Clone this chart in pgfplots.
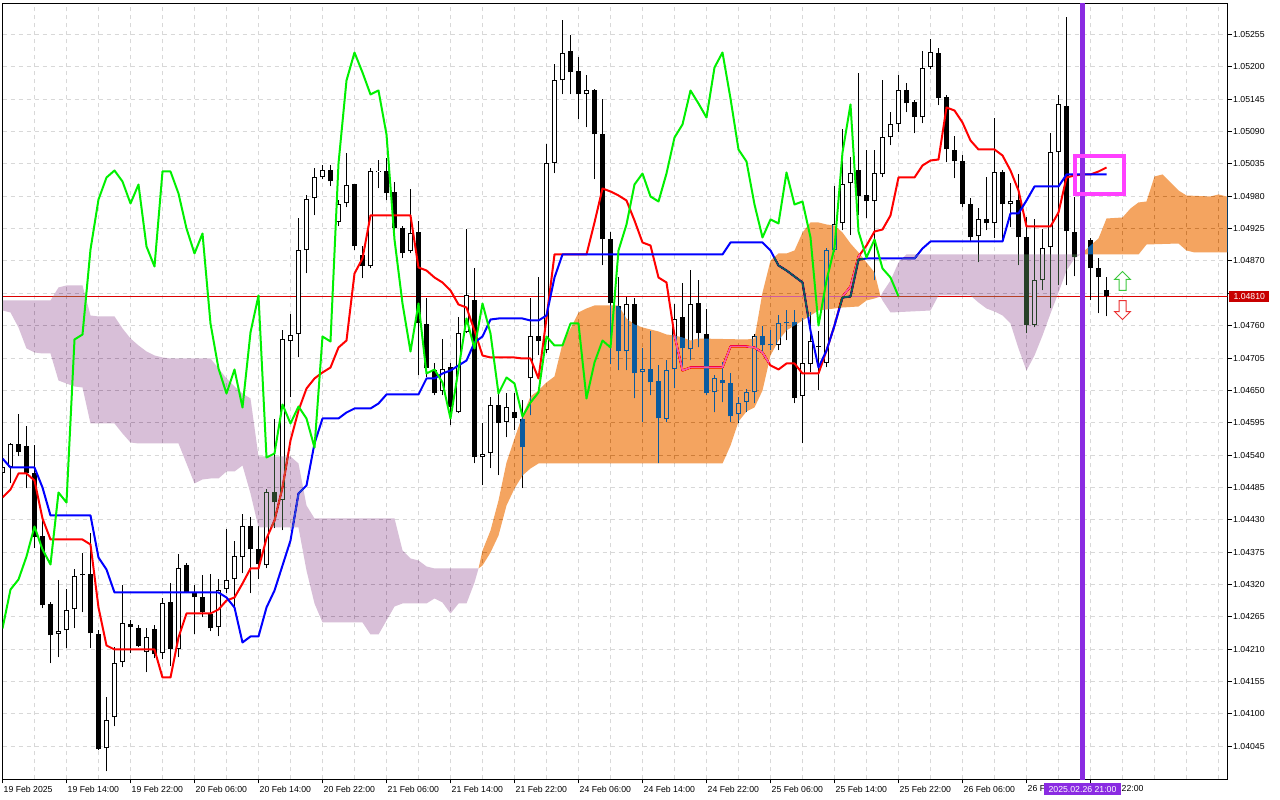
\documentclass[border=0pt]{standalone}
\usepackage{fontspec}
\setmainfont{Liberation Sans}
\usepackage{pgfplots}
\pgfplotsset{compat=1.18}
\usepackage{pgfplotstable}

\definecolor{cloudO}{RGB}{11,91,159}
\definecolor{cloudP}{RGB}{39,64,39}
\definecolor{gridc}{RGB}{216,216,216}
\definecolor{bidred}{RGB}{220,0,0}
\definecolor{bvio}{RGB}{138,43,226}
\definecolor{mag}{RGB}{255,64,255}
\definecolor{chik}{RGB}{0,240,0}
\definecolor{boxred}{RGB}{200,0,0}
\definecolor{arrg}{RGB}{60,200,60}
\definecolor{arrr}{RGB}{235,50,50}

\pgfdeclareplotmark{uparr}{%
 \pgfpathmoveto{\pgfpoint{0bp}{9.5bp}}%
 \pgfpathlineto{\pgfpoint{8bp}{1.5bp}}%
 \pgfpathlineto{\pgfpoint{3.5bp}{1.5bp}}%
 \pgfpathlineto{\pgfpoint{3.5bp}{-9.5bp}}%
 \pgfpathlineto{\pgfpoint{-3.5bp}{-9.5bp}}%
 \pgfpathlineto{\pgfpoint{-3.5bp}{1.5bp}}%
 \pgfpathlineto{\pgfpoint{-8bp}{1.5bp}}%
 \pgfpathclose\pgfusepathqfillstroke}
\pgfdeclareplotmark{dnarr}{%
 \pgfpathmoveto{\pgfpoint{0bp}{-9.5bp}}%
 \pgfpathlineto{\pgfpoint{8bp}{-1.5bp}}%
 \pgfpathlineto{\pgfpoint{3.5bp}{-1.5bp}}%
 \pgfpathlineto{\pgfpoint{3.5bp}{9.5bp}}%
 \pgfpathlineto{\pgfpoint{-3.5bp}{9.5bp}}%
 \pgfpathlineto{\pgfpoint{-3.5bp}{-1.5bp}}%
 \pgfpathlineto{\pgfpoint{-8bp}{-1.5bp}}%
 \pgfpathclose\pgfusepathqfillstroke}

\pgfplotsset{candlebar/.style={black, only marks, mark size=0.01pt, mark options={opacity=0},
  error bars/.cd, y dir=plus, y explicit, error mark=none, error bar style={#1}}}

% bullish candles (close above open)
\pgfplotstableread{
i O H L C
0 1.045087 1.045274 1.045002 1.045189
1 1.045189 1.045597 1.044917 1.045580
7 1.042350 1.043268 1.041959 1.042401
8 1.042418 1.043132 1.042112 1.042775
9 1.042775 1.043472 1.042452 1.043353
13 1.040412 1.041279 1.040021 1.040905
14 1.040939 1.042129 1.040786 1.041874
15 1.041874 1.043200 1.041789 1.042537
18 1.042044 1.042469 1.041704 1.042299
20 1.042027 1.042962 1.041925 1.042894
22 1.042095 1.043710 1.041959 1.043489
27 1.042469 1.043285 1.042316 1.043115
28 1.043115 1.044152 1.043047 1.043285
29 1.043285 1.043948 1.042758 1.043676
30 1.043659 1.044390 1.043387 1.044186
33 1.043523 1.044832 1.043472 1.044764
35 1.044628 1.047518 1.044118 1.047365
36 1.047331 1.047807 1.046379 1.047450
37 1.047450 1.049422 1.047059 1.048895
38 1.048878 1.049813 1.048487 1.049745
39 1.049762 1.050289 1.049473 1.050119
40 1.050119 1.050323 1.050085 1.050238
42 1.049354 1.049728 1.049286 1.049677
43 1.049677 1.050527 1.049609 1.050000
46 1.048606 1.050272 1.048572 1.050221
47 1.050204 1.050425 1.049932 1.050221
51 1.048861 1.049915 1.048827 1.049167
55 1.046481 1.047365 1.046413 1.046855
57 1.046124 1.047739 1.046107 1.047484
58 1.047484 1.049235 1.047467 1.048113
60 1.045359 1.045937 1.044883 1.045427
61 1.045427 1.046379 1.045172 1.046260
63 1.045954 1.046447 1.045699 1.046226
66 1.046702 1.048079 1.046073 1.047416
68 1.047178 1.050680 1.047127 1.050357
69 1.050357 1.052040 1.050187 1.051768
70 1.051768 1.052788 1.051530 1.052244
73 1.051530 1.051853 1.050969 1.051598
78 1.047161 1.048079 1.046838 1.047977
80 1.046804 1.047212 1.045954 1.046855
83 1.046005 1.047025 1.045954 1.046855
84 1.046855 1.047977 1.046532 1.047722
86 1.047195 1.048538 1.047008 1.047977
89 1.046464 1.046753 1.046124 1.046719
92 1.046090 1.046379 1.045937 1.046294
93 1.046294 1.046532 1.046124 1.046464
94 1.046464 1.047467 1.046277 1.047416
97 1.047263 1.047773 1.047178 1.047637
100 1.046396 1.047739 1.045597 1.046974
101 1.046940 1.047824 1.046804 1.047348
103 1.046957 1.048912 1.046889 1.048878
104 1.048878 1.049966 1.048844 1.049320
105 1.049337 1.050935 1.049218 1.050000
106 1.050017 1.050459 1.049133 1.050187
109 1.049711 1.050578 1.048368 1.050187
110 1.050170 1.051768 1.050119 1.050799
111 1.050799 1.051241 1.050663 1.051020
112 1.051020 1.051870 1.050884 1.051598
115 1.051139 1.052261 1.051037 1.051989
116 1.051989 1.052482 1.051955 1.052244
122 1.049116 1.049592 1.048674 1.049405
124 1.049337 1.051122 1.049082 1.050204
126 1.049660 1.050017 1.049269 1.049711
129 1.047603 1.049422 1.047569 1.048368
130 1.048368 1.049235 1.048198 1.048929
131 1.048929 1.050867 1.047892 1.050544
132 1.050544 1.051530 1.048283 1.051360
135 1.048759 1.049133 1.048674 1.049065
}\bull

% bearish candles (close below open)
\pgfplotstableread{
i O H L C
2 1.045580 1.046090 1.045376 1.045444
3 1.045546 1.045903 1.044832 1.045087
4 1.045087 1.045563 1.043812 1.043999
5 1.044016 1.044322 1.042792 1.042843
6 1.042860 1.042894 1.041857 1.042333
10 1.043370 1.043744 1.042724 1.043353
11 1.043387 1.044084 1.042112 1.042367
12 1.042350 1.042435 1.040378 1.040395
16 1.042537 1.042605 1.042027 1.042469
17 1.042469 1.042503 1.042129 1.042146
19 1.042435 1.042520 1.041942 1.042010
21 1.042894 1.043234 1.041806 1.042095
23 1.043523 1.043557 1.043047 1.043064
24 1.043064 1.043200 1.042350 1.042979
25 1.042979 1.043370 1.042639 1.042724
26 1.042707 1.043387 1.042401 1.042452
31 1.044203 1.044339 1.043047 1.043795
32 1.043795 1.044186 1.043285 1.043540
34 1.044781 1.046005 1.044152 1.044594
41 1.050238 1.050323 1.049966 1.050051
44 1.050000 1.050017 1.048878 1.048946
45 1.048810 1.048946 1.048402 1.048606
48 1.050221 1.050459 1.049728 1.049847
49 1.049864 1.050034 1.049218 1.049252
50 1.049252 1.049286 1.048742 1.048827
52 1.049184 1.049388 1.046753 1.047637
53 1.047637 1.048079 1.046719 1.046872
54 1.046855 1.046957 1.046413 1.046447
56 1.046889 1.046957 1.045903 1.046209
59 1.048045 1.048572 1.045257 1.045359
62 1.046260 1.046447 1.045053 1.045937
64 1.046124 1.046447 1.045818 1.046022
65 1.046022 1.046328 1.044832 1.045529
67 1.047416 1.048419 1.047093 1.047331
71 1.052261 1.052533 1.051530 1.051904
72 1.051921 1.052159 1.051105 1.051530
74 1.051598 1.051615 1.050085 1.050850
75 1.050850 1.051445 1.048623 1.049065
76 1.049065 1.049184 1.046940 1.047977
77 1.047943 1.048436 1.046838 1.047161
79 1.047977 1.048079 1.046362 1.046787
81 1.046855 1.047518 1.046413 1.046634
82 1.046651 1.046940 1.045257 1.046022
85 1.047739 1.048317 1.046838 1.047212
87 1.047977 1.048368 1.047229 1.047467
88 1.047467 1.047892 1.046413 1.046447
90 1.046668 1.046974 1.046294 1.046617
91 1.046634 1.046804 1.045954 1.046056
95 1.047416 1.047586 1.047127 1.047263
96 1.047297 1.047518 1.047178 1.047263
98 1.047654 1.047858 1.047348 1.047637
99 1.047654 1.047858 1.046277 1.046362
102 1.047263 1.047518 1.046498 1.047229
107 1.050238 1.051887 1.049473 1.049796
108 1.049813 1.050578 1.049422 1.049711
113 1.051598 1.051717 1.051224 1.051377
114 1.051394 1.051428 1.050867 1.051139
117 1.052244 1.052312 1.051343 1.051462
118 1.051496 1.051530 1.050374 1.050595
119 1.050595 1.050816 1.050102 1.050391
120 1.050391 1.050493 1.049609 1.049660
121 1.049677 1.049762 1.049014 1.049099
123 1.049405 1.050119 1.049218 1.049337
125 1.050204 1.050255 1.049065 1.049660
127 1.049728 1.050170 1.048623 1.049099
128 1.049099 1.049439 1.047467 1.047603
133 1.051326 1.052839 1.048283 1.049201
134 1.049184 1.049779 1.048436 1.048759
136 1.049065 1.049099 1.048028 1.048572
137 1.048572 1.048742 1.047807 1.048419
138 1.048198 1.048419 1.047756 1.048100
}\bear

% Tenkan-sen
\pgfplotstableread{
i v
0 1.044679
1 1.044815
2 1.045087
3 1.045087
4 1.044968
5 1.044322
6 1.043965
10 1.043965
11 1.043880
12 1.042809
13 1.042163
14 1.042095
19 1.042095
20 1.041619
21 1.041619
22 1.042299
23 1.042707
26 1.042707
27 1.042775
28 1.042928
29 1.042979
30 1.043217
31 1.043472
32 1.043472
33 1.043982
34 1.044288
35 1.044849
36 1.045648
37 1.046158
38 1.046532
39 1.046702
40 1.046804
41 1.046889
42 1.047229
43 1.047348
44 1.048487
45 1.048742
46 1.049473
51 1.049473
52 1.048589
53 1.048538
54 1.048419
55 1.048334
56 1.048198
57 1.047960
58 1.047909
59 1.047518
60 1.047093
61 1.047059
64 1.047059
65 1.047042
66 1.047042
67 1.046702
68 1.047722
69 1.048810
73 1.048810
74 1.049354
75 1.049932
76 1.049881
77 1.049813
78 1.049728
79 1.049388
80 1.049014
81 1.048963
82 1.048419
83 1.048334
84 1.047433
85 1.046838
86 1.046889
90 1.046889
91 1.047246
93 1.047246
94 1.047229
95 1.047144
96 1.046923
97 1.046855
98 1.046957
99 1.046957
100 1.046787
102 1.046787
103 1.047178
104 1.047603
105 1.048096
106 1.048266
107 1.048776
108 1.048963
109 1.049201
110 1.049235
111 1.049473
112 1.050119
114 1.050119
115 1.050323
116 1.050408
117 1.050425
118 1.051309
119 1.051258
120 1.051054
121 1.050748
122 1.050595
124 1.050595
125 1.050493
126 1.050238
127 1.049898
128 1.049286
131 1.049286
132 1.049524
133 1.050119
134 1.050153
135 1.050170
136 1.050170
137 1.050221
138 1.050289
}\tenkan

% Kijun-sen
\pgfplotstableread{
i v
0 1.045342
1 1.045189
4 1.045189
5 1.044849
6 1.044373
11 1.044373
12 1.043659
13 1.043455
14 1.043064
27 1.043064
28 1.042979
29 1.042809
30 1.042214
31 1.042316
32 1.042316
33 1.042809
34 1.043098
35 1.043523
36 1.043948
37 1.044747
38 1.044883
39 1.045597
40 1.046022
42 1.046022
43 1.046124
44 1.046192
46 1.046192
47 1.046277
48 1.046430
52 1.046430
53 1.046702
54 1.046702
55 1.046787
56 1.046838
57 1.046923
58 1.047008
59 1.047314
60 1.047416
61 1.047705
62 1.047722
65 1.047722
66 1.047688
67 1.047688
68 1.047773
69 1.048419
70 1.048810
90 1.048810
91 1.049014
95 1.049014
96 1.048878
97 1.048623
98 1.048538
99 1.048436
100 1.048334
101 1.047518
102 1.046889
103 1.047178
104 1.047603
105 1.048079
106 1.048096
107 1.048725
108 1.048742
114 1.048742
115 1.048912
116 1.049031
125 1.049031
126 1.049507
127 1.049507
128 1.049728
129 1.049966
132 1.049966
133 1.050170
138 1.050170
}\kijun

% Chikou span
\pgfplotstableread{
i v
0 1.042452
1 1.043115
2 1.043285
3 1.043676
4 1.044186
5 1.043795
6 1.043540
7 1.044764
8 1.044594
9 1.047365
10 1.047450
11 1.048895
12 1.049745
13 1.050119
14 1.050238
15 1.050051
16 1.049677
17 1.050000
18 1.048946
19 1.048606
20 1.050221
21 1.050221
22 1.049847
23 1.049252
24 1.048827
25 1.049167
26 1.047637
27 1.046872
28 1.046447
29 1.046855
30 1.046209
31 1.047484
32 1.048113
33 1.045359
34 1.045427
35 1.046260
36 1.045937
37 1.046226
38 1.046022
39 1.045529
40 1.047416
41 1.047331
42 1.050357
43 1.051768
44 1.052244
45 1.051904
46 1.051530
47 1.051598
48 1.050850
49 1.049065
50 1.047977
51 1.047161
52 1.047977
53 1.046787
54 1.046855
55 1.046634
56 1.046022
57 1.046855
58 1.047722
59 1.047212
60 1.047977
61 1.047467
62 1.046447
63 1.046719
64 1.046617
65 1.046056
66 1.046294
67 1.046464
68 1.047416
69 1.047263
70 1.047263
71 1.047637
72 1.047637
73 1.046362
74 1.046974
75 1.047348
76 1.047229
77 1.048878
78 1.049320
79 1.050000
80 1.050187
81 1.049796
82 1.049711
83 1.050187
84 1.050799
85 1.051020
86 1.051598
87 1.051377
88 1.051139
89 1.051989
90 1.052244
91 1.051462
92 1.050595
93 1.050391
94 1.049660
95 1.049099
96 1.049405
97 1.049337
98 1.050204
99 1.049660
100 1.049711
101 1.049099
102 1.047603
103 1.048368
104 1.048929
105 1.050544
106 1.051360
107 1.049201
108 1.048759
109 1.049065
110 1.048572
111 1.048419
112 1.048100
}\chikou

\begin{document}
\begin{tikzpicture}
\fill[white] (0,0) rectangle (1280bp,800bp);
\path[use as bounding box] (0,0) rectangle (1280bp,800bp);
\begin{axis}[
  at={(2.5bp,20.5bp)}, anchor=south west,
  scale only axis, width=1225bp, height=776bp,
  xmin=0, xmax=153.125, ymin=1.039885, ymax=1.053077,
  axis line style={black, line width=1bp},
  tick align=outside,
  xtick pos=left, ytick pos=right, yticklabel pos=right,
  major tick length=4bp, minor tick length=0pt,
  major tick style={black, line width=1bp},
  xtick={0,8,...,136},
  xticklabels={19 Feb 2025,19 Feb 14:00,19 Feb 22:00,20 Feb 06:00,20 Feb 14:00,20 Feb 22:00,21 Feb 06:00,21 Feb 14:00,21 Feb 22:00,24 Feb 06:00,24 Feb 14:00,24 Feb 22:00,25 Feb 06:00,25 Feb 14:00,25 Feb 22:00,26 Feb 06:00,26 F,\hspace*{30bp}22:00},
  minor xtick={4,12,20,28,36,44,52,60,68,76,84,92,100,108,116,124,132,140,144,148,152},
  ytick={1.04045,1.04100,1.04155,1.04210,1.04265,1.04320,1.04375,1.04430,1.04485,1.04540,1.04595,1.04650,1.04705,1.04760,1.04815,1.04870,1.04925,1.04980,1.05035,1.05090,1.05145,1.05200,1.05255},
  yticklabels={1.04045,1.04100,1.04155,1.04210,1.04265,1.04320,1.04375,1.04430,1.04485,1.04540,1.04595,1.04650,1.04705,1.04760,,1.04870,1.04925,1.04980,1.05035,1.05090,1.05145,1.05200,1.05255},
  grid=major, xminorgrids=true,
  major grid style={gridc, dash pattern=on 4bp off 4bp, line width=1bp},
  minor grid style={gridc, dash pattern=on 4bp off 4bp, line width=1bp},
  ticklabel style={font=\fontsize{8.7bp}{10bp}\selectfont, text=black},
  xticklabel style={anchor=north west, inner sep=0pt, xshift=1bp, yshift=-2bp},
  yticklabel style={anchor=west, inner sep=0pt, xshift=1.5bp},
]
% bid line
\addplot[bidred, line width=1bp] coordinates {(0,1.04810) (153.125,1.04810)};
% wicks
\addplot[candlebar={black, line width=1bp}]
  table[x=i, y=L, y error plus expr=\thisrow{H}-\thisrow{L}] {\bull};
\addplot[candlebar={black, line width=1bp}]
  table[x=i, y=L, y error plus expr=\thisrow{H}-\thisrow{L}] {\bear};
% bearish bodies
\addplot[candlebar={black, line width=5bp}]
  table[x=i, y=C, y error plus expr=\thisrow{O}-\thisrow{C}] {\bear};
% bullish bodies: outline + white inside
\addplot[candlebar={black, line width=5bp}]
  table[x=i, y=O, y error plus expr=\thisrow{C}-\thisrow{O}] {\bull};
\addplot[candlebar={white, line width=3bp, shorten <=1bp, shorten >=1bp}]
  table[x=i, y=O, y error plus expr=\thisrow{C}-\thisrow{O}] {\bull};
% Tenkan and Kijun
\addplot[red, line width=2bp, line join=round] table[x=i, y=v] {\tenkan};
\addplot[blue, line width=2bp, line join=round] table[x=i, y=v] {\kijun};
% Kumo (cloud), drawn as in the terminal (xor-like)
\addplot[fill=cloudP, draw=none, blend mode=difference] coordinates {
(0,1.048028) (6,1.048028) (7,1.048249) (8,1.048283) (10,1.048283) (11,1.047773) (12,1.047756) (14,1.047756) (15,1.047552) (16,1.047382) (17,1.047263) (18,1.047161) (19,1.047093) (20,1.047059) (21,1.047042) (26,1.047042) (27,1.046872) (28,1.046702) (29,1.046566) (30,1.046447) (31,1.046362) (32,1.045376) (36,1.045376) (37,1.045257) (38,1.044543) (39,1.044322) (49,1.044322) (50,1.043778) (51,1.043642) (52,1.043608) (53,1.043506) (54,1.043472) (59.5,1.043472)
(59,1.043234) (58,1.042877) (57,1.042877) (56,1.042707) (55,1.042894) (54,1.042962) (53,1.042877) (50,1.042877) (49,1.042826) (48,1.042588) (47,1.042350) (46,1.042350) (45,1.042554) (40,1.042554) (39,1.042877) (38,1.043438) (37,1.044169) (32,1.044169) (31,1.044747) (30,1.045223) (29,1.045121) (28,1.045121) (27,1.045002) (26,1.045002) (25,1.044985) (24,1.044917) (23,1.045257) (22,1.045597) (17,1.045597) (16,1.045614) (15,1.045767) (14,1.045937) (11,1.045937) (10,1.046549) (9,1.046566) (8,1.046617) (7,1.046668) (6,1.047127) (5,1.047127) (4,1.047144) (3,1.047212) (2,1.047569) (1,1.047824) (0,1.047858)
} -- cycle;
\addplot[fill=cloudO, draw=none, blend mode=difference] coordinates {
(59.5,1.043472) (60,1.043778) (61,1.044118) (62,1.044628) (63,1.045274) (64,1.045682) (65,1.046073) (66,1.046396) (67,1.046498) (68,1.046634) (69,1.046736) (70,1.047297) (71,1.047552) (72,1.047824) (73,1.047892) (74,1.047943) (77,1.047943) (78,1.047722) (79,1.047620) (80,1.047569) (81,1.047535) (82,1.047501) (83,1.047450) (84,1.047433) (85,1.047399) (86,1.047348) (87,1.047382) (93,1.047365) (94,1.047382) (95,1.048164) (96,1.048708) (97,1.048827) (98,1.048827) (99,1.048878) (100,1.049184) (101,1.049354) (102,1.049354) (103,1.049320) (104,1.049303) (105,1.049184) (106,1.048997) (107,1.048844) (108,1.048674) (109,1.048504) (109.75,1.048096)
(109,1.048062) (108,1.048028) (107,1.047926) (105,1.047909) (104,1.047892) (103,1.047875) (102,1.047858) (101,1.047773) (100,1.047688) (99,1.047603) (98,1.047518) (97,1.047348) (96,1.047093) (95,1.046498) (94,1.046209) (93,1.046141) (92,1.045971) (91,1.045563) (90,1.045257) (67,1.045257) (66,1.045172) (65,1.045053) (64,1.044832) (63,1.044543) (62,1.044033) (61,1.043744) (60,1.043523)
} -- cycle;
\addplot[fill=cloudP, draw=none, blend mode=difference] coordinates {
(109.75,1.048096) (110,1.048164) (111,1.048368) (112,1.048674) (113,1.048810) (134.75,1.048810)
(134,1.048742) (133,1.048538) (132,1.048164) (131,1.047807) (130,1.047433) (129,1.047093) (128,1.046838) (127,1.047212) (126,1.047637) (125,1.047773) (124,1.047841) (123,1.047892) (122,1.047994) (121,1.048113) (117,1.048113) (116,1.047858) (111,1.047824) (110,1.048028)
} -- cycle;
\addplot[fill=cloudO, draw=none, blend mode=difference] coordinates {
(134.75,1.048810) (135,1.048844) (136,1.048963) (137,1.049082) (138,1.049422) (140,1.049439) (141,1.049592) (142,1.049694) (143,1.049711) (144,1.050136) (145,1.050170) (146,1.050034) (147,1.049898) (148,1.049813) (151,1.049796) (152,1.049830) (154,1.049762)
(154,1.048844) (149,1.048844) (148,1.048878) (147,1.048997) (143,1.048980) (142,1.048810)
} -- cycle;
% Chikou
\addplot[chik, line width=2bp, line join=round] table[x=i, y=v] {\chikou};
% vertical line at 2025.02.26 21:00
\addplot[bvio, line width=5bp] coordinates {(135,1.0395) (135,1.0535)};
% magenta frame
\addplot[mag, line width=4bp] coordinates {(134,1.050476) (140.125,1.050476) (140.125,1.049830) (134,1.049830)} -- cycle;
% arrows
\addplot[only marks, mark=uparr, mark options={draw=arrg, fill=white, line width=1bp}] coordinates {(140,1.048360)};
\addplot[only marks, mark=dnarr, mark options={draw=arrr, fill=white, line width=1bp}] coordinates {(140,1.047866)};
\coordinate (bid) at (axis cs:153.125,1.04810);
\coordinate (dbox) at (axis cs:135,1.039885);
\end{axis}
\node[fill=boxred, text=white, inner xsep=4.3bp, inner ysep=0pt, minimum height=11bp, anchor=west,
  font=\fontsize{8.7bp}{10bp}\selectfont] at ([xshift=1.5bp]bid) {1.04810};
\node[fill=bvio, text=white, inner xsep=5bp, inner ysep=0pt, minimum height=12bp, anchor=north,
  font=\fontsize{8.7bp}{10bp}\selectfont] at ([yshift=-3.5bp]dbox) {2025.02.26 21:00};
\end{tikzpicture}
\end{document}
